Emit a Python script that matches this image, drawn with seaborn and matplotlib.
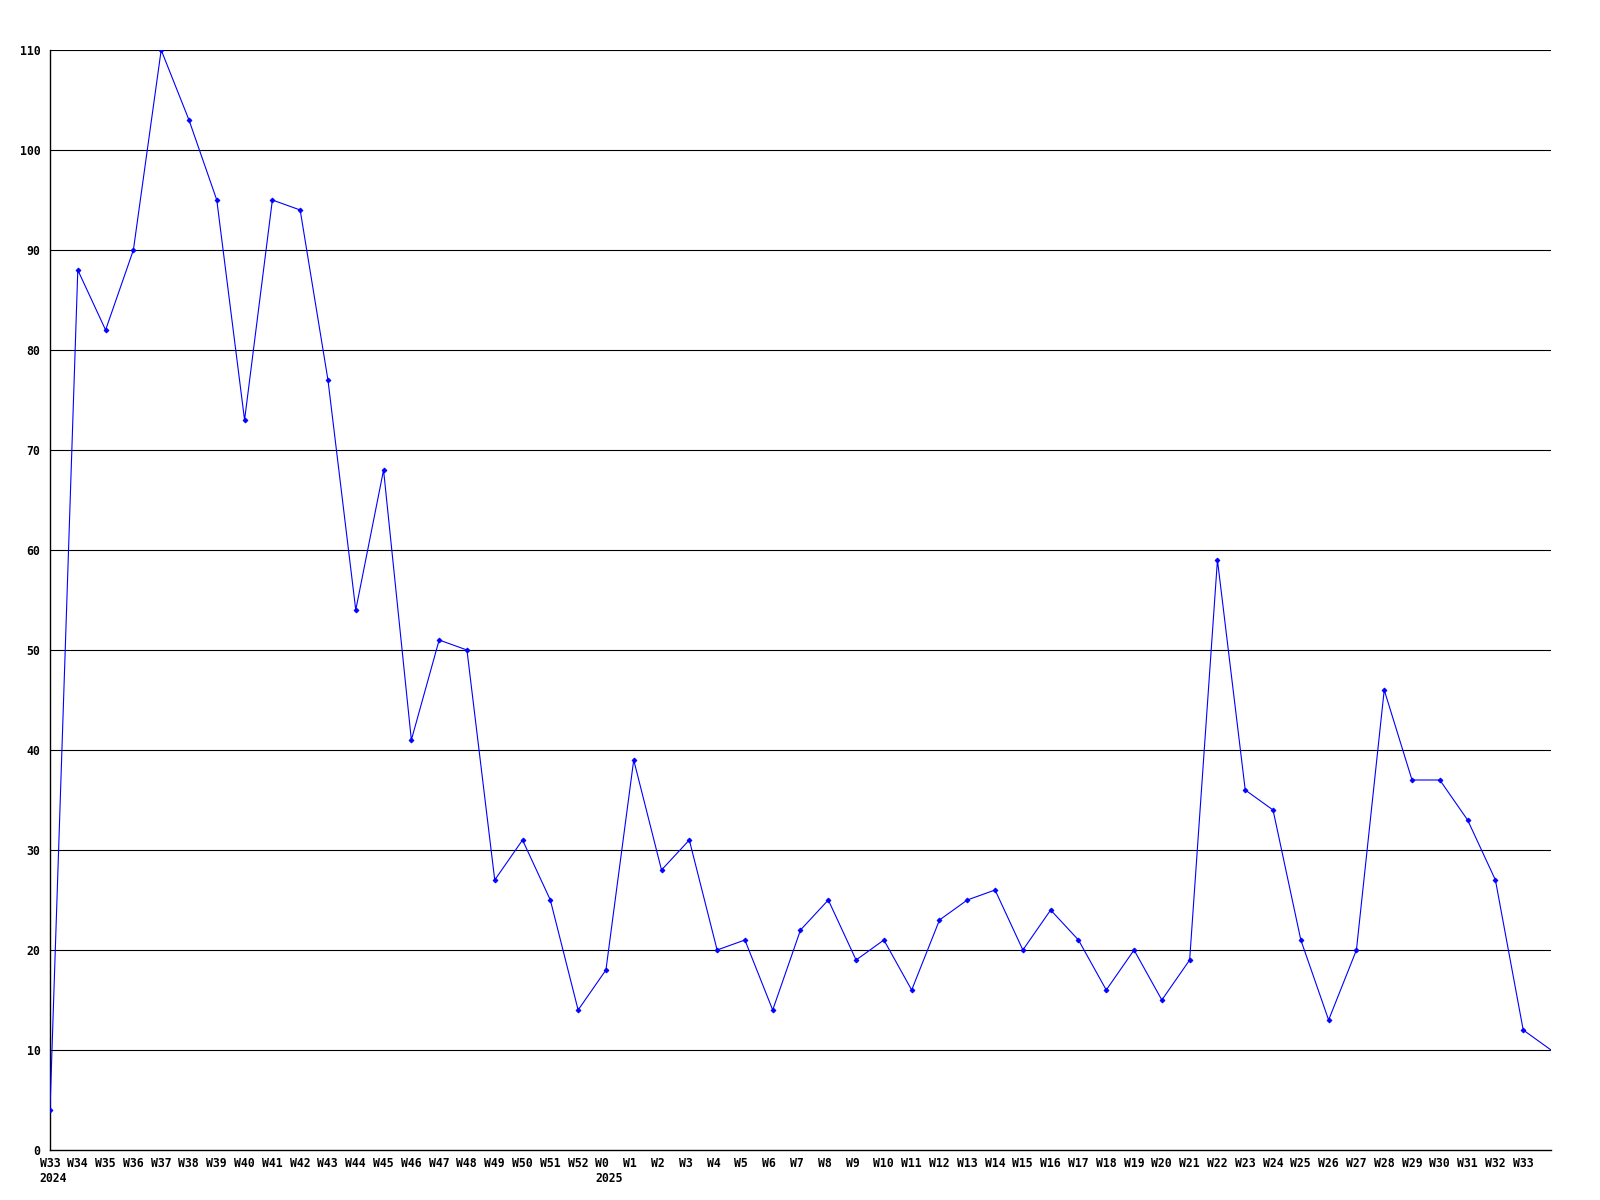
import matplotlib
matplotlib.use("Agg")
import matplotlib.pyplot as plt
import matplotlib.transforms as mtransforms
import seaborn as sns
import pandas as pd

weeks = ["W33\n2024", "W34", "W35", "W36", "W37", "W38", "W39", "W40", "W41", "W42",
         "W43", "W44", "W45", "W46", "W47", "W48", "W49", "W50", "W51", "W52",
         "W0\n2025", "W1", "W2", "W3", "W4", "W5", "W6", "W7", "W8", "W9",
         "W10", "W11", "W12", "W13", "W14", "W15", "W16", "W17", "W18", "W19",
         "W20", "W21", "W22", "W23", "W24", "W25", "W26", "W27", "W28", "W29",
         "W30", "W31", "W32", "W33", ""]
values = [4, 88, 82, 90, 110, 103, 95, 73, 95, 94,
          77, 54, 68, 41, 51, 50, 27, 31, 25, 14,
          18, 39, 28, 31, 20, 21, 14, 22, 25, 19,
          21, 16, 23, 25, 26, 20, 24, 21, 16, 20,
          15, 19, 59, 36, 34, 21, 13, 20, 46, 37,
          37, 33, 27, 12, 10]
y_ticks = list(range(0, 111, 10))

df = pd.DataFrame({"idx": range(len(values)), "value": values})

sns.set_theme(style="white")
plt.rcParams["font.family"] = ["DejaVu Sans Mono"]

fig = plt.figure(figsize=(16, 12), dpi=100)
ax = fig.add_axes([50 / 1600, 1 - 1150 / 1200, 1501 / 1600, 1100 / 1200])

for yv in y_ticks[1:]:
    ax.axhline(yv, color="black", linewidth=0.8, zorder=1)

sns.lineplot(data=df, x="idx", y="value", ax=ax, color="#0000FF", linewidth=0.8,
             marker="D", markersize=2.5, markeredgewidth=0.6, markeredgecolor="#0000FF",
             markevery=list(range(len(values) - 1)), zorder=3)

ax.set_xlim(0, len(values) - 1)
ax.set_ylim(0, 110)
ax.set_xticks(range(len(values)))
ax.set_xticklabels(weeks, fontsize=8.3, fontweight="bold", ha="left",
                   multialignment="left", linespacing=1.2)
ax.set_yticks(y_ticks)
ax.set_yticklabels([str(v) for v in y_ticks], fontsize=8.3, fontweight="bold")
ax.tick_params(axis="both", length=0, colors="black")
ax.tick_params(axis="x", pad=5)
ax.tick_params(axis="y", pad=7)

offset = mtransforms.ScaledTranslation(-10.5 / 100, 0, fig.dpi_scale_trans)
for lab in ax.get_xticklabels():
    lab.set_transform(lab.get_transform() + offset)

ax.set_xlabel("")
ax.set_ylabel("")
for side in ["top", "right"]:
    ax.spines[side].set_visible(False)
for side in ["left", "bottom"]:
    ax.spines[side].set_color("black")
    ax.spines[side].set_linewidth(1.0)
ax.grid(False)

fig.savefig("out.png", dpi=100, facecolor="white")
